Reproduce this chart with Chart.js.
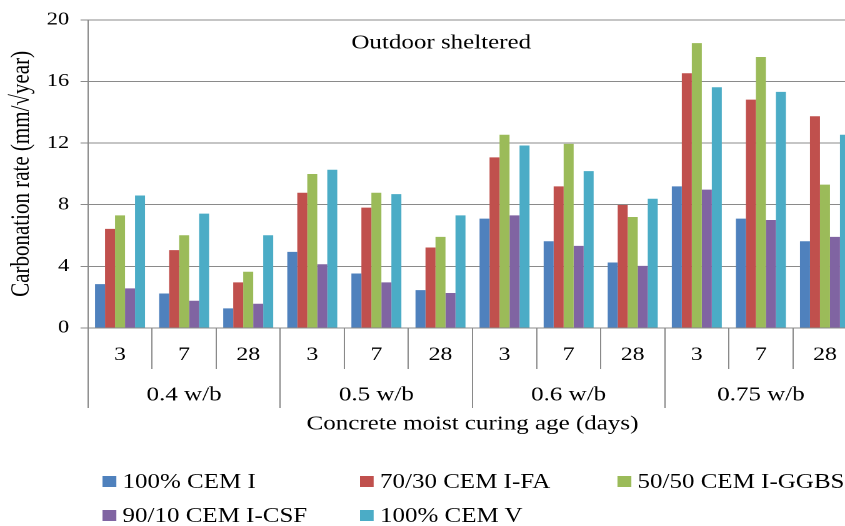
<!DOCTYPE html>
<html lang="en">
<head>
<meta charset="UTF-8">
<title>Outdoor sheltered</title>
<script src="https://cdn.jsdelivr.net/npm/chart.js"></script>
<style>
  body { margin: 0; overflow: hidden; background: #fff; width: 845px; height: 526px; }
  /* the original picture is stretched sideways, so the whole chart is drawn narrow and scaled */
  #wrap {
    position: absolute; left: 0; top: 0;
    width: 690px; height: 526px;
    transform: scaleX(1.25); transform-origin: 0 0;
    font-family: 'Liberation Serif', 'Times New Roman', serif;
    color: #000;
  }
  #box { position: relative; width: 690px; height: 440px; }
  #legend {
    position: absolute; left: 82px; top: 464px;
    display: grid; grid-template-columns: 206px 206px auto;
  }
  .item { display: flex; align-items: center; height: 34px; font-size: 20px; white-space: nowrap; }
  .sw { display: inline-block; width: 11px; height: 11px; margin-right: 5px; }
</style>
</head>
<body>
<div id="wrap">
  <div id="box"><canvas id="myChart"></canvas></div>
  <div id="legend"></div>
</div>

<script>
const chartTitle = 'Outdoor sheltered';
const curingDays = ['3', '7', '28', '3', '7', '28', '3', '7', '28', '3', '7', '28'];
const wbGroups = ['0.4 w/b', '0.5 w/b', '0.6 w/b', '0.75 w/b'];
const yTicks = [0, 4, 8, 12, 16, 20];

const seriesNames = ['100% CEM I', '70/30 CEM I-FA', '50/50 CEM I-GGBS', '90/10 CEM I-CSF', '100% CEM V'];
const seriesColors = ['#4F81BD', '#C0504D', '#9BBB59', '#8064A2', '#4BACC6'];

const cemI = [2.85, 2.24, 1.27, 4.94, 3.54, 2.46, 7.10, 5.63, 4.25, 9.19, 7.10, 5.63];
const cemIFA = [6.43, 5.05, 2.96, 8.78, 7.81, 5.22, 11.07, 9.19, 7.98, 16.53, 14.82, 13.74];
const cemIGGBS = [7.31, 6.02, 3.65, 9.99, 8.78, 5.91, 12.54, 11.95, 7.20, 18.49, 17.59, 9.30];
const cemICSF = [2.57, 1.77, 1.57, 4.14, 2.96, 2.27, 7.31, 5.33, 4.03, 8.98, 7.01, 5.91];
const cemV = [8.60, 7.42, 6.02, 10.27, 8.69, 7.31, 11.84, 10.18, 8.39, 15.62, 15.32, 12.54];

const seriesValues = [cemI, cemIFA, cemIGGBS, cemICSF, cemV];

const serif = "'Liberation Serif', 'Times New Roman', serif";
const gray = '#8a8a8a';

// title sits inside the plot area, not above it
const insideTitle = {
    id: 'insideTitle',
    afterDatasetsDraw(chart) {
        const ctx = chart.ctx;
        ctx.save();
        ctx.font = '20px ' + serif;
        ctx.fillStyle = '#000';
        ctx.textAlign = 'center';
        ctx.textBaseline = 'middle';
        ctx.fillText(chartTitle, 353, 43);
        ctx.restore();
    }
};

const ctx = document.getElementById('myChart').getContext('2d');
const myChart = new Chart(ctx, {
    type: 'bar',
    data: {
        labels: curingDays,
        datasets: seriesNames.map((name, i) => ({
            label: name,
            data: seriesValues[i],
            backgroundColor: seriesColors[i],
            borderWidth: 0,
            barPercentage: 1,
            categoryPercentage: 0.78
        }))
    },
    options: {
        responsive: true,
        maintainAspectRatio: false,
        animation: false,
        devicePixelRatio: 2,
        layout: { padding: { top: 19, right: 4.4, bottom: 0, left: 0 } },
        plugins: {
            legend: { display: false },
            tooltip: { enabled: false }
        },
        scales: {
            y: {
                min: 0,
                max: 20,
                afterBuildTicks: s => { s.ticks = yTicks.map(v => ({ value: v })); },
                afterFit: s => { s.width = 70.4; },
                border: { color: gray },
                grid: { color: gray, tickLength: 6, tickColor: gray },
                ticks: { color: '#000', padding: 9, font: { family: serif, size: 18 } },
                title: {
                    display: true,
                    text: 'Carbonation rate (mm/\u221Ayear)',
                    color: '#000',
                    padding: { top: 5, bottom: 0 },
                    font: { family: serif, size: 21 }
                }
            },
            x: {
                weight: 1,
                offset: true,
                afterFit: s => { s.height = 41; },
                border: { color: gray },
                grid: { offset: true, drawOnChartArea: false, tickLength: 41, color: gray, tickColor: gray },
                ticks: { color: '#000', padding: -25.4, autoSkip: false, maxRotation: 0, font: { family: serif, size: 19 } }
            },
            x2: {
                type: 'category',
                position: 'bottom',
                weight: 2,
                labels: wbGroups,
                offset: true,
                afterFit: s => { s.height = 71; },
                border: { display: false },
                grid: { offset: true, drawOnChartArea: false, tickLength: 39, color: gray, tickColor: gray },
                ticks: { color: '#000', padding: -25, autoSkip: false, maxRotation: 0, font: { family: serif, size: 20 } },
                title: {
                    display: true,
                    text: 'Concrete moist curing age (days)',
                    color: '#000',
                    padding: { top: 0, bottom: 4 },
                    font: { family: serif, size: 20 }
                }
            }
        }
    },
    plugins: [insideTitle]
});

// legend as html, three columns like the original
const legend = document.getElementById('legend');
seriesNames.forEach((name, i) => {
    const item = document.createElement('div');
    item.className = 'item';
    const sw = document.createElement('span');
    sw.className = 'sw';
    sw.style.background = seriesColors[i];
    item.appendChild(sw);
    item.appendChild(document.createTextNode(name));
    legend.appendChild(item);
});
</script>
</body>
</html>
